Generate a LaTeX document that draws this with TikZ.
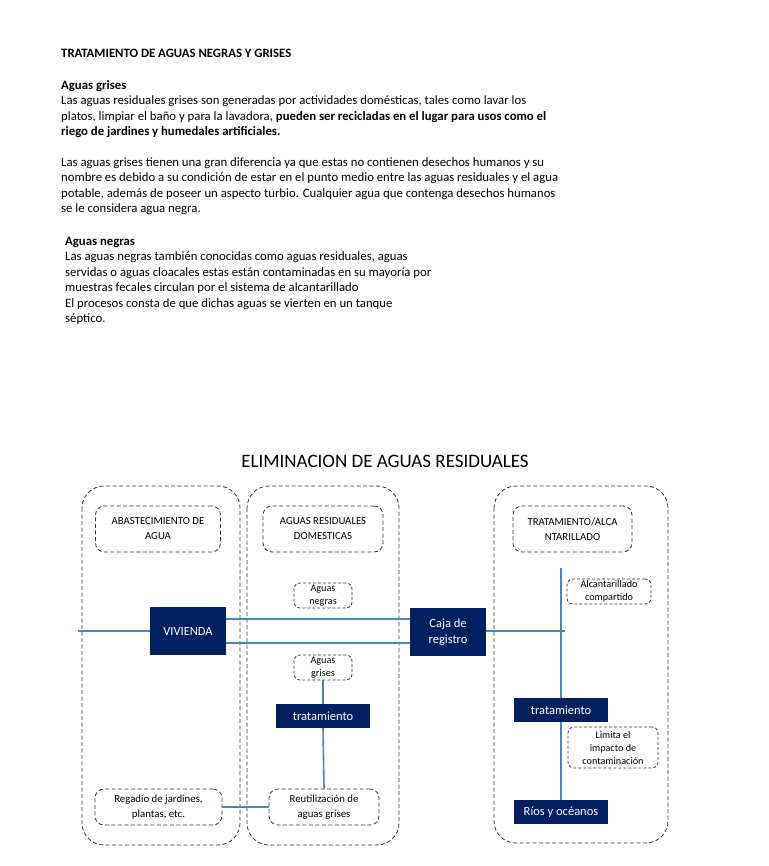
\documentclass[tikz,border=0pt]{standalone}
\usepackage{fontspec}
\setmainfont{Carlito}
\usetikzlibrary{calc}
\definecolor{navy}{HTML}{002060}
\definecolor{pipe}{HTML}{4F81BD}
\definecolor{dashgray}{HTML}{333333}
\begin{document}
\begin{tikzpicture}[x=1pt,y=-1pt,
  txt/.style={anchor=north west,inner sep=0pt,align=left,font=\fontsize{12.75}{15.5}\selectfont},
  bigbox/.style={draw=dashgray,dashed,dash pattern=on 4pt off 2.5pt,rounded corners=22pt,line width=0.8pt},
  hdr/.style={draw=dashgray,dash pattern=on 4pt off 2.5pt,rounded corners=9pt,line width=0.8pt,align=center,font=\fontsize{10.8}{15}\selectfont,inner sep=0pt},
  tag/.style={draw=dashgray,dash pattern=on 3pt off 2pt,rounded corners=6pt,line width=0.8pt,align=center,font=\fontsize{10.2}{13}\selectfont,inner sep=0pt},
  solid box/.style={fill=navy,text=white,align=center,inner sep=0pt,font=\fontsize{12.5}{16}\selectfont},
  pipeline/.style={draw=pipe,line width=1.6pt}]
\useasboundingbox (0,0) rectangle (768,866);
\fill[white] (0,0) rectangle (768,866);
% text
\node[txt,font=\fontsize{12.75}{15.5}\selectfont\bfseries] (t0) at (61,49) {TRATAMIENTO DE AGUAS NEGRAS Y GRISES};
\node[txt] (t1) at (61,80) {\textbf{Aguas grises}\\
Las aguas residuales grises son generadas por actividades domésticas, tales como lavar los\\
platos, limpiar el baño y para la lavadora, \textbf{pueden ser recicladas en el lugar para usos como el}\\
\textbf{riego de jardines y humedales artificiales.}};
\node[txt] (t2) at (61,157) {Las aguas grises tienen una gran diferencia ya que estas no contienen desechos humanos y su\\
nombre es debido a su condición de estar en el punto medio entre las aguas residuales y el agua\\
potable, además de poseer un aspecto turbio. Cualquier agua que contenga desechos humanos\\
se le considera agua negra.};
\node[txt] (t3) at (65,237) {\textbf{Aguas negras}\\
Las aguas negras también conocidas como aguas residuales, aguas\\
servidas o aguas cloacales estas están contaminadas en su mayoría por\\
muestras fecales circulan por el sistema de alcantarillado\\
El procesos consta de que dichas aguas se vierten en un tanque\\
séptico.};
% diagram title
\node[font=\fontsize{19}{22}\selectfont,inner sep=0pt] (title) at (385,461) {ELIMINACION DE AGUAS RESIDUALES};
% columns
\draw[bigbox] (82,486) rectangle (240,845);
\draw[bigbox] (247,486) rectangle (399,845);
\draw[bigbox] (494,486) rectangle (668,843);
\node[hdr,minimum width=125pt,minimum height=46pt] (h1) at (158,529) {ABASTECIMIENTO DE\\AGUA};
\node[hdr,minimum width=120pt,minimum height=46pt] (h2) at (323,529) {AGUAS RESIDUALES\\DOMESTICAS};
\node[hdr,minimum width=119pt,minimum height=46pt] (h3) at (572.5,529) {TRATAMIENTO/ALCA\\NTARILLADO};
% tags
\node[tag,minimum width=58pt,minimum height=25pt] (an) at (323,595.5) {Aguas\\negras};
\node[tag,minimum width=58pt,minimum height=25pt] (ag) at (323,667.5) {Aguas\\grises};
\node[tag,minimum width=84pt,minimum height=25pt] (alc) at (609,591.5) {Alcantarillado\\compartido};
\node[tag,minimum width=90pt,minimum height=41pt] (lim) at (613,747.5) {Limita el\\impacto de\\contaminación};
\node[hdr,minimum width=127pt,minimum height=36pt] (reg) at (158.5,807) {Regadío de jardines,\\plantas, etc.};
\node[hdr,minimum width=110pt,minimum height=36pt] (reu) at (324,807) {Reutilización de\\aguas grises};
% solid boxes
\node[solid box,minimum width=76pt,minimum height=48pt] (viv) at (188,631) {VIVIENDA};
\node[solid box,minimum width=76pt,minimum height=48pt] (caja) at (448,632) {Caja de\\registro};
\node[solid box,minimum width=94pt,minimum height=24pt] (tr1) at (323,716) {tratamiento};
\node[solid box,minimum width=94pt,minimum height=24pt] (tr2) at (561,710) {tratamiento};
\node[solid box,minimum width=94pt,minimum height=24pt] (rio) at (561,812) {Ríos y océanos};
% connectors
\coordinate (lin) at (78,631);
\coordinate (cout) at (565,631);
\coordinate (vtop) at (561,568);
\draw[pipeline] (lin) -- (viv.west);
\draw[pipeline] (viv.east |- 0,619) -- (caja.west |- 0,619);
\draw[pipeline] (viv.east |- 0,643) -- (caja.west |- 0,643);
\draw[pipeline] (caja.east |- cout) -- (cout);
\draw[pipeline] (vtop) -- (tr2.north);
\draw[pipeline] (tr2.south) -- (rio.north);
\draw[pipeline] (ag.south) -- (tr1.north);
\draw[pipeline] (tr1.south) -- (reu.north);
\draw[pipeline,line width=2.4pt] (reg.east) -- (reu.west);
\end{tikzpicture}
\end{document}
